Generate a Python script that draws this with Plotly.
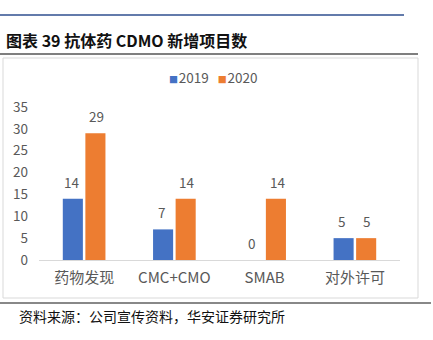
import plotly.graph_objects as go

categories = ["药物发现", "CMC+CMO", "SMAB", "对外许可"]
series_names = ["2019", "2020"]
values_2019 = [14, 7, 0, 5]
values_2020 = [29, 14, 14, 5]
y_ticks = [0, 5, 10, 15, 20, 25, 30, 35]

colors = ["#4472C4", "#ED7D31"]
GRAY = "#595959"
CJK = "Noto Sans CJK SC"

W, H = 433, 340
L, R, T, B = 39, 400, 107, 260  # plot area in pixels


def px(x):
    return (x - L) / (R - L)


def py(y):
    return (B - y) / (B - T)


fig = go.Figure()
for name, vals, col in zip(series_names, [values_2019, values_2020], colors):
    fig.add_trace(go.Bar(x=categories, y=vals, name=name, marker_color=col,
                         marker_line_width=0, showlegend=False))

# data labels
for i, vals in enumerate([values_2019, values_2020]):
    shift = -12.5 if i == 0 else 12.5
    for c, v in zip(categories, vals):
        fig.add_annotation(x=c, y=v, text=str(v), showarrow=False, xshift=shift,
                           yshift=17, yanchor="middle",
                           font=dict(size=13.5, color=GRAY, family=CJK))

# legend (compact, Excel style)
legend_text = "".join(
    f"<span style='color:{c};font-size:9px'>■</span><span style='font-size:3px'> </span>{n}"
    + ("   " if k == 0 else "")
    for k, (n, c) in enumerate(zip(series_names, colors))
)
fig.add_annotation(xref="paper", yref="paper", x=px(213), y=py(77), xanchor="center",
                   yanchor="middle", text=legend_text, showarrow=False,
                   font=dict(size=13.5, color=GRAY, family=CJK))

shapes = [
    dict(type="line", xref="paper", yref="paper", x0=px(0), x1=px(404), y0=py(15), y1=py(15),
         line=dict(color="#2F4F8F", width=1.5)),
    dict(type="line", xref="paper", yref="paper", x0=px(0), x1=px(418), y0=py(54), y1=py(54),
         line=dict(color="#555555", width=1.5)),
    dict(type="rect", xref="paper", yref="paper", x0=px(3), x1=px(418), y0=py(58), y1=py(298),
         line=dict(color="#D9D9D9", width=1)),
    dict(type="line", xref="paper", yref="paper", x0=px(0), x1=px(431), y0=py(303), y1=py(303),
         line=dict(color="#888888", width=2)),
]

fig.add_annotation(xref="paper", yref="paper", x=px(4), y=py(40), xanchor="left", yanchor="middle",
                   text="<b>图表 39 抗体药 CDMO 新增项目数</b>", showarrow=False,
                   font=dict(size=16, color="#111111", family=CJK))
fig.add_annotation(xref="paper", yref="paper", x=px(17), y=py(316), xanchor="left", yanchor="middle",
                   text="资料来源：公司宣传资料，华安证券研究所", showarrow=False,
                   font=dict(size=14, color="#111111", family=CJK))

fig.update_layout(
    width=W, height=H,
    margin=dict(l=L, r=W - R, t=T, b=H - B, pad=0),
    paper_bgcolor="white", plot_bgcolor="white",
    barmode="group", bargap=0.5, bargroupgap=0.11,
    shapes=shapes,
    showlegend=False,
    font=dict(family=CJK, color=GRAY),
    xaxis=dict(showline=True, linecolor="#D9D9D9", linewidth=1, ticks="",
               ticklabelstandoff=4,
               tickfont=dict(size=15, color=GRAY, family=CJK), showgrid=False),
    yaxis=dict(range=[0, 35], tickvals=y_ticks, showgrid=False, zeroline=False, showline=False,
               ticks="", ticklabelstandoff=10,
               tickfont=dict(size=13.5, color=GRAY, family=CJK)),
)

fig.write_html("out.html")
